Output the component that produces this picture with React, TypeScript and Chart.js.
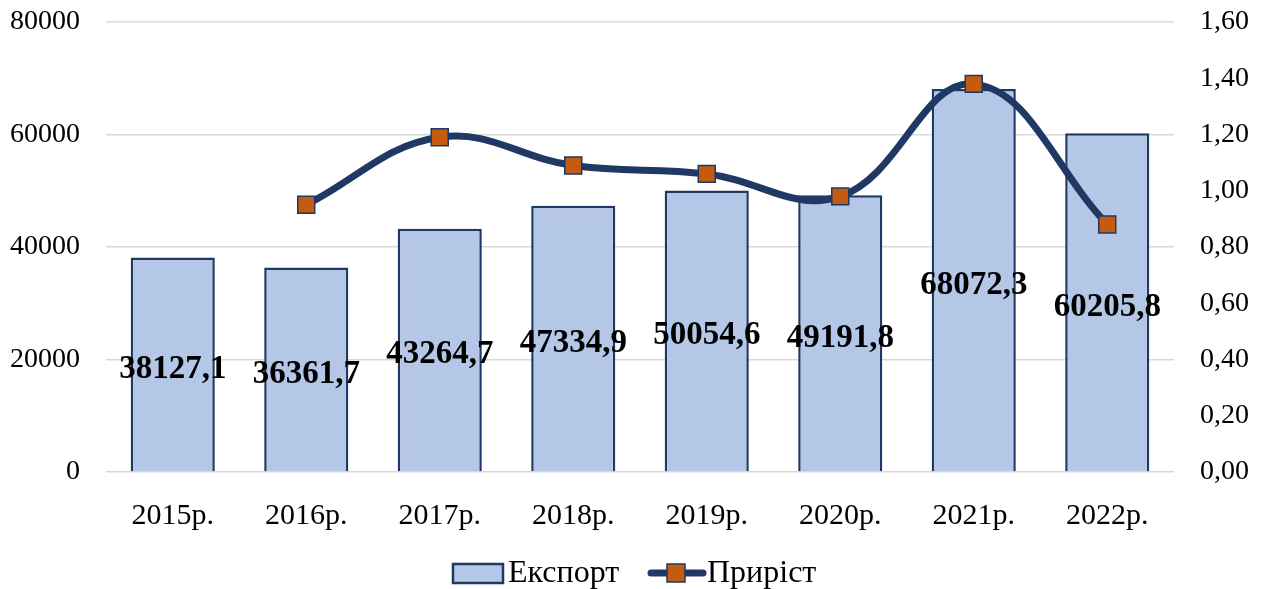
import React, { useEffect, useRef } from "react";
import { Chart, registerables } from "chart.js";

Chart.register(...registerables);

const categories = ["2015р.", "2016р.", "2017р.", "2018р.", "2019р.", "2020р.", "2021р.", "2022р."];
const exportValues = [38127.1, 36361.7, 43264.7, 47334.9, 50054.6, 49191.8, 68072.3, 60205.8];
const growthValues: (number | null)[] = [null, 0.95, 1.19, 1.09, 1.06, 0.98, 1.38, 0.88];
const leftTicks = [0, 20000, 40000, 60000, 80000];
const rightTicks = [0, 0.2, 0.4, 0.6, 0.8, 1.0, 1.2, 1.4, 1.6];
const seriesNames = ["Експорт", "Приріст"];

const FONT = "'Liberation Serif', 'Times New Roman', serif";
const BAR_FILL = "#B4C7E7";
const NAVY = "#1F3864";
const ORANGE = "#C55A11";

const fmt = (v: number) => String(v).replace(".", ",");

const labelsPlugin = {
  id: "barLabels",
  afterDatasetsDraw(chart: any) {
    const ctx = chart.ctx;
    const meta = chart.getDatasetMeta(1);
    ctx.save();
    ctx.font = `bold 33px ${FONT}`;
    ctx.fillStyle = "#000";
    ctx.textAlign = "center";
    ctx.textBaseline = "middle";
    meta.data.forEach((bar: any, i: number) => {
      const y = (bar.y + bar.base) / 2;
      ctx.fillText(fmt(exportValues[i]), bar.x, y + 5);
    });
    ctx.restore();
  },
};

const legendPlugin = {
  id: "customLegend",
  afterDraw(chart: any) {
    const ctx = chart.ctx;
    ctx.save();
    const cy = 573;
    ctx.fillStyle = BAR_FILL;
    ctx.strokeStyle = NAVY;
    ctx.lineWidth = 2.5;
    ctx.fillRect(453, cy - 9, 50, 19);
    ctx.strokeRect(453, cy - 9, 50, 19);
    ctx.font = `32px ${FONT}`;
    ctx.fillStyle = "#000";
    ctx.textBaseline = "middle";
    ctx.textAlign = "left";
    ctx.fillText(seriesNames[0], 508, cy + 1);
    ctx.strokeStyle = NAVY;
    ctx.lineWidth = 7;
    ctx.lineCap = "round";
    ctx.beginPath();
    ctx.moveTo(651, cy);
    ctx.lineTo(703, cy);
    ctx.stroke();
    ctx.fillStyle = ORANGE;
    ctx.lineWidth = 1.5;
    ctx.fillRect(667, cy - 9, 18, 18);
    ctx.strokeRect(667, cy - 9, 18, 18);
    ctx.fillStyle = "#000";
    ctx.fillText(seriesNames[1], 707, cy + 1);
    ctx.restore();
  },
};

export default function App() {
  const ref = useRef<HTMLCanvasElement | null>(null);

  useEffect(() => {
    if (!ref.current) return;
    const chart = new Chart(ref.current, {
      type: "bar",
      data: {
        labels: categories,
        datasets: [
          {
            type: "line",
            label: seriesNames[1],
            data: growthValues,
            yAxisID: "y1",
            borderColor: NAVY,
            borderWidth: 7,
            tension: 0.4,
            pointStyle: "rect",
            pointRadius: 12,
            pointBackgroundColor: ORANGE,
            pointBorderColor: NAVY,
            pointBorderWidth: 1.5,
            order: 0,
          } as any,
          {
            type: "bar",
            label: seriesNames[0],
            data: exportValues,
            yAxisID: "y",
            backgroundColor: BAR_FILL,
            borderColor: NAVY,
            borderWidth: 2.5,
            categoryPercentage: 1,
            barPercentage: 0.63,
            order: 1,
          } as any,
        ],
      },
      options: {
        responsive: false,
        animation: false,
        layout: { padding: { top: 22, bottom: 52, left: 0, right: 0 } },
        plugins: {
          legend: { display: false },
          tooltip: { enabled: false },
        },
        scales: {
          x: {
            grid: { display: false, drawTicks: false },
            border: { display: false },
            ticks: {
              font: { family: FONT, size: 30 },
              color: "#000",
              padding: 26,
            },
            afterFit(scale: any) {
              scale.height = 65;
              scale.paddingLeft = 0;
              scale.paddingRight = 0;
            },
          },
          y: {
            position: "left",
            min: 0,
            max: 80000,
            grid: { color: "#D9D9D9", lineWidth: 1.5, drawTicks: false },
            border: { display: false },
            afterBuildTicks(scale: any) {
              scale.ticks = leftTicks.map((v) => ({ value: v }));
            },
            ticks: {
              font: { family: FONT, size: 28 },
              color: "#000",
              padding: 26,
              callback: (v: any) => String(v),
            },
            afterFit(scale: any) {
              scale.width = 106;
              scale.paddingTop = 0;
              scale.paddingBottom = 0;
            },
          },
          y1: {
            position: "right",
            min: 0,
            max: 1.6,
            grid: { display: false, drawTicks: false },
            border: { display: false },
            afterBuildTicks(scale: any) {
              scale.ticks = rightTicks.map((v) => ({ value: v }));
            },
            ticks: {
              font: { family: FONT, size: 28 },
              color: "#000",
              padding: 26,
              callback: (v: any) => Number(v).toFixed(2).replace(".", ","),
            },
            afterFit(scale: any) {
              scale.width = 89;
              scale.paddingTop = 0;
              scale.paddingBottom = 0;
            },
          },
        },
      },
      plugins: [labelsPlugin, legendPlugin],
    });
    return () => chart.destroy();
  }, []);

  return (
    <div style={{ position: "absolute", left: 0, top: 0, width: 1263, height: 589, background: "#fff" }}>
      <canvas ref={ref} width={1263} height={589} />
    </div>
  );
}
